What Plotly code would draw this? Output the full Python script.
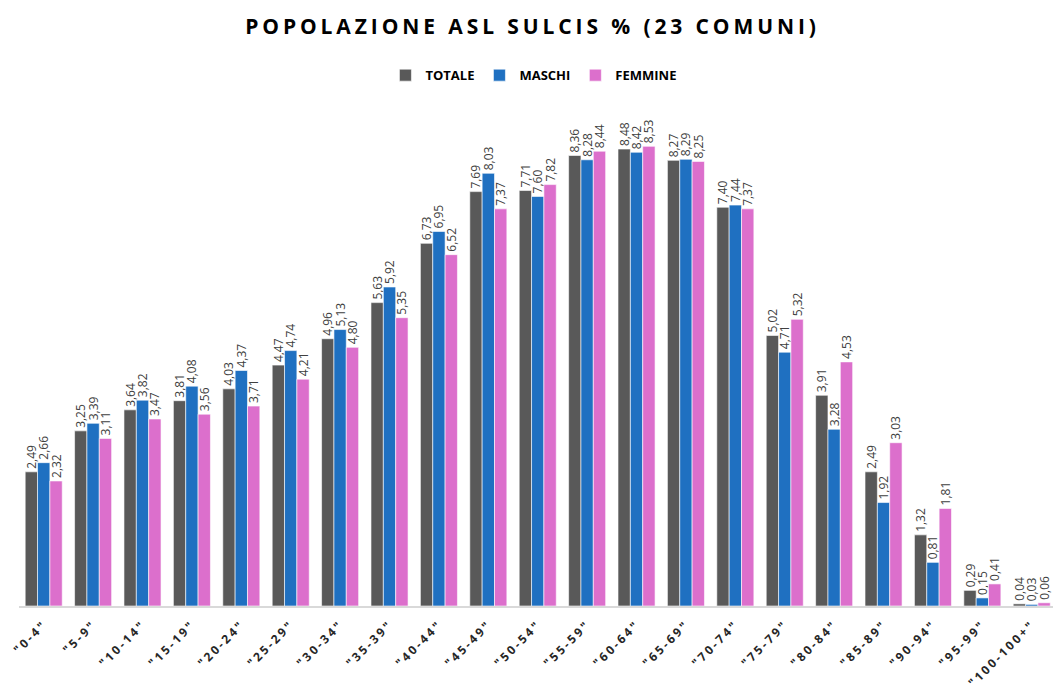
import plotly.graph_objects as go

categories = ['"0-4"', '"5-9"', '"10-14"', '"15-19"', '"20-24"', '"25-29"', '"30-34"',
              '"35-39"', '"40-44"', '"45-49"', '"50-54"', '"55-59"', '"60-64"', '"65-69"',
              '"70-74"', '"75-79"', '"80-84"', '"85-89"', '"90-94"', '"95-99"', '"100-100+"']
totale = [2.49, 3.25, 3.64, 3.81, 4.03, 4.47, 4.96, 5.63, 6.73, 7.69, 7.71, 8.36, 8.48, 8.27,
          7.40, 5.02, 3.91, 2.49, 1.32, 0.29, 0.04]
maschi = [2.66, 3.39, 3.82, 4.08, 4.37, 4.74, 5.13, 5.92, 6.95, 8.03, 7.60, 8.28, 8.42, 8.29,
          7.44, 4.71, 3.28, 1.92, 0.81, 0.15, 0.03]
femmine = [2.32, 3.11, 3.47, 3.56, 3.71, 4.21, 4.80, 5.35, 6.52, 7.37, 7.82, 8.44, 8.53, 8.25,
           7.37, 5.32, 4.53, 3.03, 1.81, 0.41, 0.06]

series = [("TOTALE", totale, "#595959"), ("MASCHI", maschi, "#1f70c1"), ("FEMMINE", femmine, "#dc6fcc")]

fig = go.Figure()
for name, vals, col in series:
    fig.add_trace(go.Bar(
        x=categories, y=vals, name=name,
        marker=dict(color=col, line=dict(color="white", width=0.6)),
        text=[f"{v:.2f}".replace(".", ",") for v in vals],
        textposition="outside", textangle=-90, constraintext="none",
        textfont=dict(family="Open Sans, sans-serif", size=12, color="#404040"),
        cliponaxis=False,
    ))

fig.update_layout(
    width=1053, height=688,
    paper_bgcolor="white", plot_bgcolor="white",
    barmode="group", bargap=0.25, bargroupgap=0,
    margin=dict(l=19, r=0, t=100, b=82, autoexpand=False),
    title=dict(text='<span style="letter-spacing:3.9px"><b>POPOLAZIONE ASL SULCIS % (23 COMUNI)</b></span>',
               x=0.5057, xanchor="center", xref="container", y=0.961, yanchor="middle",
               font=dict(family="Open Sans, sans-serif", size=21, color="#000000")),
    legend=dict(orientation="h", x=0.498, xanchor="center", y=1.049, yanchor="middle",
                font=dict(family="Open Sans, sans-serif", size=13, color="#000000", weight="bold"),
                itemwidth=30, traceorder="normal"),
    showlegend=True,
)
fig.update_xaxes(showline=True, linecolor="#d9d9d9", linewidth=1.5, ticks="", tickangle=-45,
                 range=[-0.5, 20.43], automargin=False, ticklabelstandoff=5,
                 tickmode="array", tickvals=categories,
                 ticktext=[f'<span style="letter-spacing:2.5px">{c}</span>' for c in categories],
                 tickfont=dict(family="Open Sans, sans-serif", size=12, color="#262626", weight="bold"))
fig.update_yaxes(visible=False, range=[0, 9.39], automargin=False)

# remove the default page margin so the figure fills the window exactly
fig.write_html("out.html", config={"displayModeBar": False},
               post_script="document.body.style.margin='0px';")
